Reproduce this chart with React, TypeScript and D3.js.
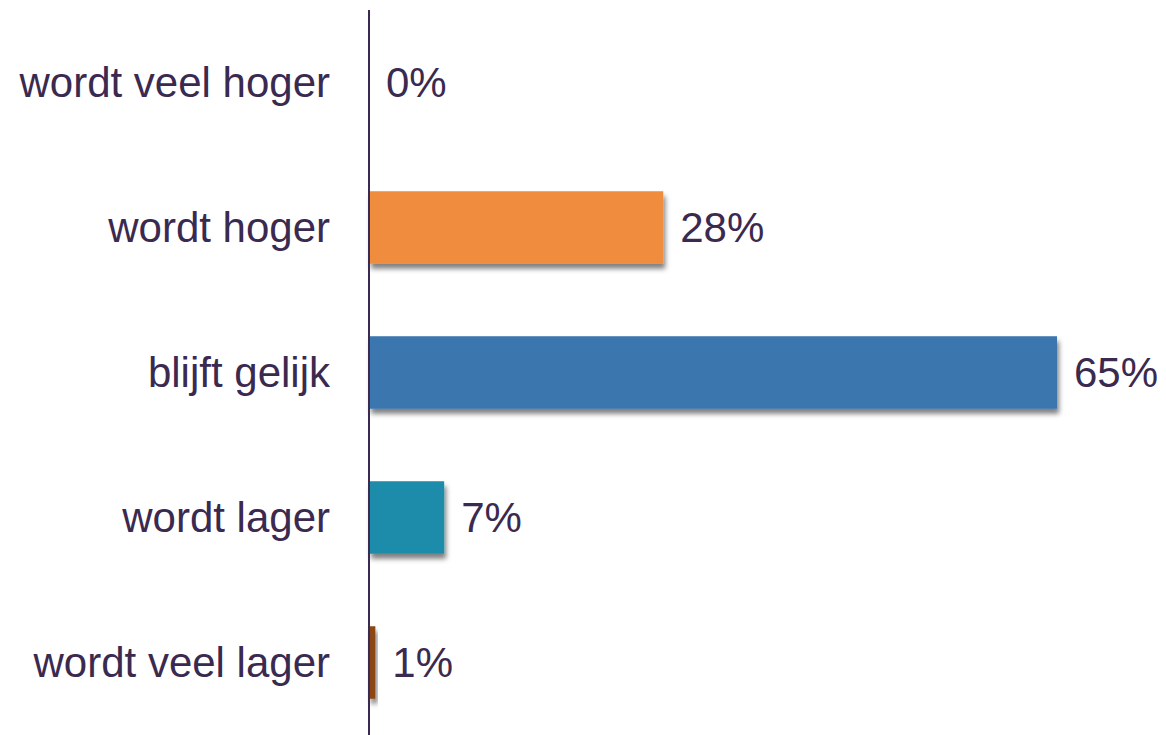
import { useRef, useEffect } from 'react';
import * as d3 from 'd3';

const categories = ['wordt veel hoger', 'wordt hoger', 'blijft gelijk', 'wordt lager', 'wordt veel lager'];
// bar lengths (labels are rounded)
const values = [0, 27.8, 65, 7.1, 0.6];
const valueLabels = ['0%', '28%', '65%', '7%', '1%'];
const colors = ['#F08C3C', '#F08C3C', '#3A76AE', '#1E8CAA', '#8C4712'];

const width = 1166;
const height = 735;
const textColor = '#3B2A50';

const BarChart = () => {
  const svgRef = useRef<SVGSVGElement>(null);

  useEffect(() => {
    if (!svgRef.current) return;
    const svg = d3.select(svgRef.current);
    svg.selectAll('*').remove();

    const axisX = 369;
    const x = d3.scaleLinear().domain([0, 65]).range([axisX, 1057]);
    const y = d3.scaleBand<string>().domain(categories).range([10, 735]).paddingInner(0.5).paddingOuter(0.25);

    const rows = categories.map((c, i) => ({ c, v: values[i], label: valueLabels[i], color: colors[i] }));

    const defs = svg.append('defs');
    const filter = defs.append('filter').attr('id', 'shadow')
      .attr('x', '-20%').attr('y', '-20%').attr('width', '150%').attr('height', '170%');
    filter.append('feDropShadow')
      .attr('dx', 2)
      .attr('dy', 5)
      .attr('stdDeviation', 2.5)
      .attr('flood-color', '#000')
      .attr('flood-opacity', 0.5);

    // Bars
    svg.append('g')
      .selectAll('rect')
      .data(rows.filter((r) => r.v > 0))
      .join('rect')
      .attr('x', axisX)
      .attr('y', (d) => y(d.c)!)
      .attr('width', (d) => x(d.v) - axisX)
      .attr('height', y.bandwidth())
      .attr('fill', (d) => d.color)
      .attr('filter', 'url(#shadow)');

    // Axis line
    svg.append('line')
      .attr('x1', axisX)
      .attr('x2', axisX)
      .attr('y1', 10)
      .attr('y2', 735)
      .attr('stroke', textColor)
      .attr('stroke-width', 2);

    // Category labels
    svg.append('g')
      .selectAll('text')
      .data(rows)
      .join('text')
      .attr('x', axisX - 39)
      .attr('y', (d) => y(d.c)! + y.bandwidth() / 2)
      .attr('text-anchor', 'end')
      .attr('dominant-baseline', 'central')
      .attr('font-family', '"Liberation Sans", Arial, sans-serif')
      .attr('font-size', 42)
      .attr('fill', textColor)
      .text((d) => d.c);

    // Value labels
    svg.append('g')
      .selectAll('text')
      .data(rows)
      .join('text')
      .attr('x', (d) => x(d.v) + 17)
      .attr('y', (d) => y(d.c)! + y.bandwidth() / 2)
      .attr('dominant-baseline', 'central')
      .attr('font-family', '"Liberation Sans", Arial, sans-serif')
      .attr('font-size', 42)
      .attr('fill', textColor)
      .text((d) => d.label);
  }, []);

  return (
    <svg
      ref={svgRef}
      width={width}
      height={height}
      style={{ position: 'absolute', left: 0, top: 0, background: '#fff' }}
    />
  );
};

export default function App() {
  return <BarChart />;
}
